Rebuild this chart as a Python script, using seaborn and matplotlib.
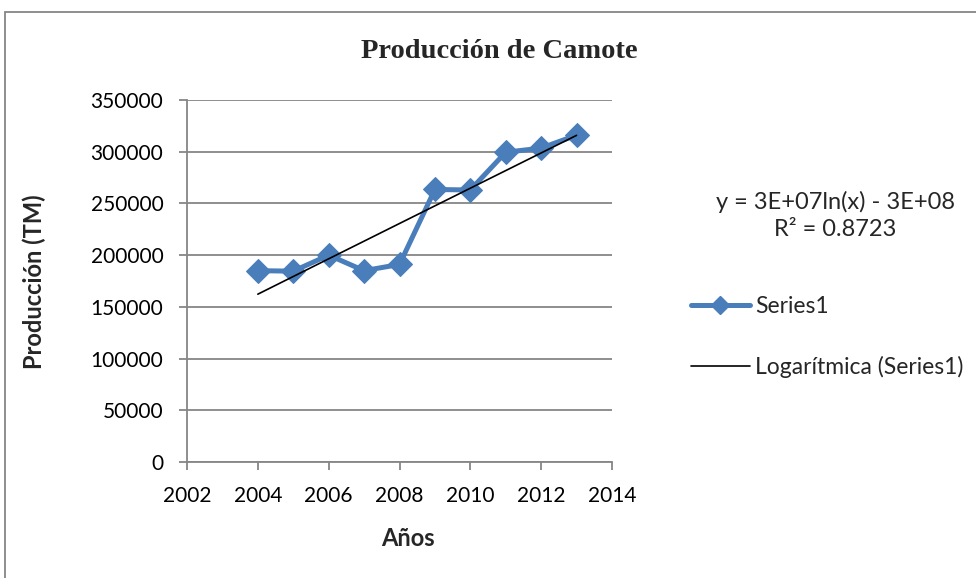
import numpy as np
import pandas as pd
import matplotlib
matplotlib.use("Agg")
import matplotlib.pyplot as plt
import seaborn as sns
from matplotlib.patches import Rectangle
from matplotlib.lines import Line2D

# Datos
anios = [2004, 2005, 2006, 2007, 2008, 2009, 2010, 2011, 2012, 2013]
produccion = [185000, 184500, 200000, 185000, 191000, 263500, 263000, 299500, 303500, 316000]

titulo = "Producción de Camote"
etiqueta_x = "Años"
etiqueta_y = "Producción (TM)"
nombre_serie = "Series1"
nombre_tendencia = "Logarítmica (Series1)"
ecuacion = "y = 3E+07ln(x) - 3E+08"
r2_texto = "R² = 0.8723"

df = pd.DataFrame({"anio": anios, "produccion": produccion})

# Tendencia logaritmica ajustada a los datos
coef = np.polyfit(np.log(df["anio"]), df["produccion"], 1)
df["tendencia"] = coef[0] * np.log(df["anio"]) + coef[1]

sns.set_theme(style="white")
plt.rcParams["font.family"] = ["Lato", "DejaVu Sans"]

azul = "#4A7EBB"
gris = "#868686"

fig = plt.figure(figsize=(9.76, 5.78), dpi=100)
ax = fig.add_axes([187 / 976, 1 - 462 / 578, 425 / 976, 362 / 578])

sns.lineplot(data=df, x="anio", y="produccion", ax=ax, color=azul, linewidth=3.6,
             marker="D", markersize=12, markeredgecolor=azul, zorder=3)
sns.lineplot(data=df, x="anio", y="tendencia", ax=ax, color="black", linewidth=1.2, zorder=4)

ax.set_xlim(2002, 2014)
ax.set_ylim(0, 350000)
ax.set_xticks(range(2002, 2015, 2))
ax.set_yticks(range(0, 350001, 50000))
ax.yaxis.grid(True, color=gris, linewidth=1.3)
ax.set_xlabel("")
ax.set_ylabel("")
for lado in ["top", "right"]:
    ax.spines[lado].set_visible(False)
for lado in ["left", "bottom"]:
    ax.spines[lado].set_color(gris)
    ax.spines[lado].set_linewidth(1.3)
ax.tick_params(axis="both", direction="out", length=6, width=1.3, color=gris,
               labelsize=15, labelcolor="black", pad=11)
ax.tick_params(axis="x", bottom=True)
ax.tick_params(axis="y", left=True)

fig.text(499 / 976, 1 - 52 / 578, titulo, ha="center", va="center",
         fontsize=20.5, fontweight="bold", family="Liberation Serif")
fig.text(408 / 976, 1 - 538 / 578, etiqueta_x, ha="center", va="center",
         fontsize=17, fontweight="bold")
fig.text(34 / 976, 1 - 282 / 578, etiqueta_y, ha="center", va="center",
         fontsize=17, fontweight="bold", rotation=90)

fig.text(835 / 976, 1 - 202 / 578, ecuacion, ha="center", va="center", fontsize=17)
fig.text(835 / 976, 1 - 229 / 578, r2_texto, ha="center", va="center", fontsize=17)

manejadores = [
    Line2D([], [], color=azul, linewidth=3.6, marker="D", markersize=9),
    Line2D([], [], color="black", linewidth=1.2),
]
fig.legend(manejadores, [nombre_serie, nombre_tendencia], loc="upper left",
           bbox_to_anchor=(670 / 976, 1 - 275 / 578), frameon=False, fontsize=16.5,
           handlelength=2.6, handletextpad=0.2, labelspacing=1.7)

fig.patches.append(Rectangle((5 / 976, -0.05), 1.2, 1 - 12 / 578 + 0.05,
                             transform=fig.transFigure, fill=False,
                             edgecolor=gris, linewidth=1.3))

fig.savefig("out.png", dpi=100)
